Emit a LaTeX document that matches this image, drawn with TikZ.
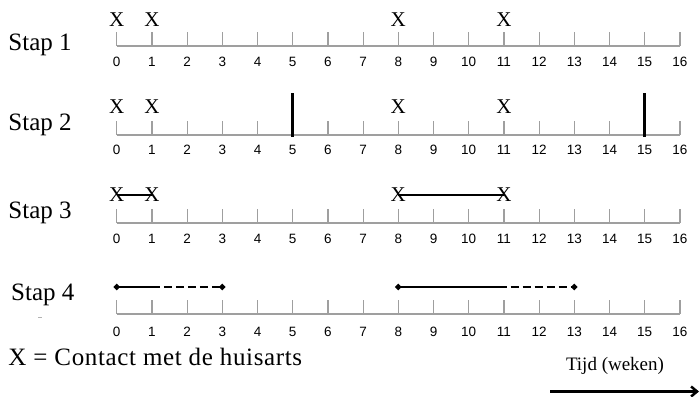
\documentclass[tikz,border=0pt]{standalone}
\usepackage{fontspec}
\setmainfont{Liberation Serif}
\newfontfamily\numfont{Liberation Sans}
\newfontfamily\legfont[LetterSpace=2.6]{Liberation Serif}
\usetikzlibrary{arrows.meta,shapes.geometric}
\begin{document}
\begin{tikzpicture}[x=1pt,y=-1pt,
  stap/.style={font=\fontsize{25}{30}\selectfont, anchor=base west, inner sep=0},
  xmark/.style={font=\fontsize{21}{24}\selectfont, anchor=base, inner sep=0},
  num/.style={font=\numfont\fontsize{13.5}{16}\selectfont, anchor=base, inner sep=0},
  axisline/.style={draw=gray!75, line width=1.2pt},
  bar/.style={line width=3pt},
  spanline/.style={line width=2.6pt},
  dashline/.style={line width=2.6pt, dash pattern=on 8pt off 4pt},
  dot/.style={diamond, fill, inner sep=0, minimum size=7pt},
]
\useasboundingbox (0,0) rectangle (700,396);
\def\ux{35.2}
\def\ox{116.7}
% axes
\foreach \r/\ay/\ny in {1/46/66.5, 2/135/154, 3/223/243, 4/314/336}{
  \draw[axisline] (\ox,\ay) -- ({\ox+16*\ux},\ay);
  \foreach \i in {0,...,16}{
    \draw[axisline] ({\ox+\i*\ux},\ay) -- ({\ox+\i*\ux},\ay-14);
    \node[num] (n\r-\i) at ({\ox+\i*\ux},\ny) {\i};
  }
}
% labels
\node[stap] (s1) at (8.3,50) {Stap 1};
\node[stap] (s2) at (8.3,130) {Stap 2};
\node[stap] (s3) at (8.3,218) {Stap 3};
\node[stap] (s4) at (11,300) {Stap 4};
\coordinate (m1) at (38,317);
\coordinate (m2) at (42,317);
\draw[gray!60, line width=0.8pt] (m1) -- (m2);
% X marks
\foreach \i in {0,1,8,11}{
  \node[xmark] (x1-\i) at ({\ox+\i*\ux},27) {X};
  \node[xmark] (x2-\i) at ({\ox+\i*\ux},113) {X};
  \node[xmark] (x3-\i) at ({\ox+\i*\ux},201.7) {X};
}
% row 2 bars
\coordinate (b5t) at ({\ox+5*\ux},93);
\coordinate (b5b) at ({\ox+5*\ux},137);
\coordinate (b15t) at ({\ox+15*\ux},93);
\coordinate (b15b) at ({\ox+15*\ux},137);
\draw[bar] (b5t) -- (b5b);
\draw[bar] (b15t) -- (b15b);
% row 3 spans
\draw[spanline] (x3-0.center) -- (x3-1.center);
\draw[spanline] (x3-8.center) -- (x3-11.center);
% row 4
\node[dot] (d0) at ({\ox},287) {};
\coordinate (e1) at ({\ox+1*\ux},287);
\node[dot] (d3) at ({\ox+3*\ux},287) {};
\node[dot] (d8) at ({\ox+8*\ux},287) {};
\coordinate (e11) at ({\ox+10.85*\ux},287);
\node[dot] (d13) at ({\ox+13*\ux},287) {};
\draw[spanline] (d0.center) -- (e1);
\draw[dashline] (e1) -- (d3.center);
\draw[spanline] (d8.center) -- (e11);
\draw[dashline] (e11) -- (d13.center);
% legend
\node[font=\legfont\fontsize{25}{30}\selectfont, anchor=base west, inner sep=0] (leg) at (8.3,365) {X = Contact met de huisarts};
\node[font=\fontsize{19}{22}\selectfont, anchor=base, inner sep=0] (tijd) at (615,370) {Tijd (weken)};
\coordinate (a1) at (550,391.5);
\coordinate (a2) at (699,391.5);
\draw[line width=2.5pt, -{Straight Barb[length=6pt,width=10pt]}] (a1) -- (a2);
\end{tikzpicture}
\end{document}
